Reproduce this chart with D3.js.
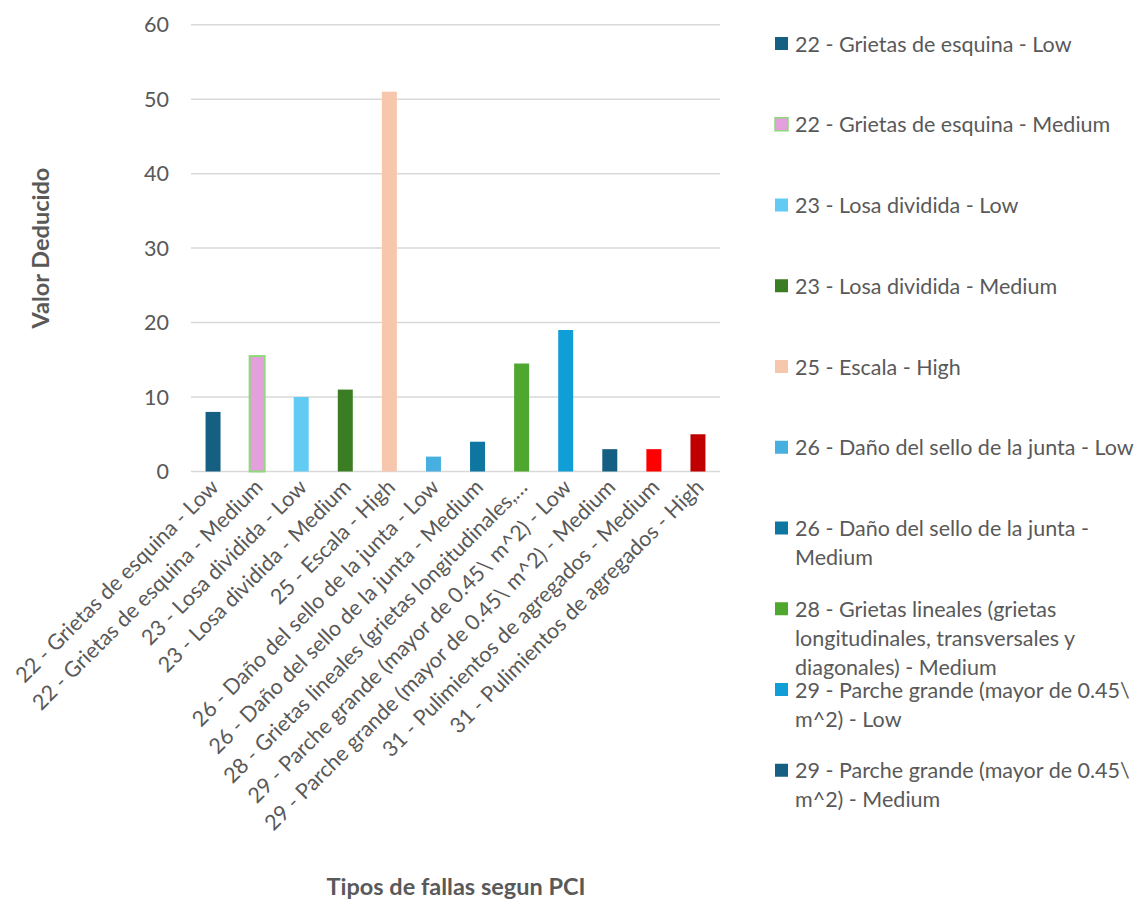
<!DOCTYPE html>
<html>
<head>
<meta charset="utf-8">
<script src="https://cdn.jsdelivr.net/npm/d3@7"></script>
<style>
  body { margin: 0; background: #fff; }
  text { font-family: Lato, "Liberation Sans", sans-serif; fill: #595959; }
</style>
</head>
<body>
<div id="chart"></div>
<script>
// categories (legend names) and the shorter axis labels
var categories = [
    "22 - Grietas de esquina - Low",
    "22 - Grietas de esquina - Medium",
    "23 - Losa dividida - Low",
    "23 - Losa dividida - Medium",
    "25 - Escala - High",
    "26 - Daño del sello de la junta - Low",
    "26 - Daño del sello de la junta - Medium",
    "28 - Grietas lineales (grietas longitudinales, transversales y diagonales) - Medium",
    "29 - Parche grande (mayor de 0.45\\ m^2) - Low",
    "29 - Parche grande (mayor de 0.45\\ m^2) - Medium",
    "31 - Pulimientos de agregados - Medium",
    "31 - Pulimientos de agregados - High"
];
var tickLabels = [
    "22 - Grietas de esquina - Low",
    "22 - Grietas de esquina - Medium",
    "23 - Losa dividida - Low",
    "23 - Losa dividida - Medium",
    "25 - Escala - High",
    "26 - Daño del sello de la junta - Low",
    "26 - Daño del sello de la junta - Medium",
    "28 - Grietas lineales (grietas longitudinales,…",
    "29 - Parche grande (mayor de 0.45\\ m^2) - Low",
    "29 - Parche grande (mayor de 0.45\\ m^2) - Medium",
    "31 - Pulimientos de agregados - Medium",
    "31 - Pulimientos de agregados - High"
];
var values = [8, 15.5, 10, 11, 51, 2, 4, 14.5, 19, 3, 3, 5];
var colors = ["#156082", "#e4a0dc", "#61cbf3", "#3a7d22", "#f6c6ad", "#47b0e0",
              "#0e76a0", "#4ea72e", "#0f9ed5", "#156082", "#ff0000", "#c00000"];
var yTicks = [0, 10, 20, 30, 40, 50, 60];

var width = 1143, height = 901;
var margin = {top: 24.7, left: 191, right: 423, bottom: 429.5};
var plotW = width - margin.left - margin.right;
var plotH = height - margin.top - margin.bottom;
var fs = "21.5px";

var svg = d3.select("#chart").append("svg")
    .attr("width", width)
    .attr("height", height);

var g = svg.append("g")
    .attr("transform", "translate(" + margin.left + "," + margin.top + ")");

var x = d3.scaleBand()
    .domain(d3.range(categories.length))
    .range([0, plotW])
    .paddingInner(0.66)
    .paddingOuter(0.33);

var y = d3.scaleLinear()
    .domain([0, 60])
    .range([plotH, 0]);

// gridlines
g.selectAll(".grid")
    .data(yTicks)
    .enter()
    .append("line")
    .attr("x1", 0)
    .attr("x2", plotW)
    .attr("y1", function(d) { return y(d); })
    .attr("y2", function(d) { return y(d); })
    .attr("stroke", "#d9d9d9")
    .attr("stroke-width", 1.5);

// y tick labels
g.selectAll(".ylab")
    .data(yTicks)
    .enter()
    .append("text")
    .attr("x", -22)
    .attr("y", function(d) { return y(d); })
    .attr("dy", "0.35em")
    .attr("text-anchor", "end")
    .style("font-size", fs)
    .text(function(d) { return d; });

// bars
g.selectAll(".bar")
    .data(values)
    .enter()
    .append("rect")
    .attr("x", function(d, i) { return x(i); })
    .attr("y", function(d) { return y(d); })
    .attr("width", x.bandwidth())
    .attr("height", function(d) { return plotH - y(d); })
    .attr("fill", function(d, i) { return colors[i]; })
    .attr("stroke", function(d, i) { return i === 1 ? "#8fd97a" : "none"; })
    .attr("stroke-width", 2);

// x tick labels, rotated
g.selectAll(".xlab")
    .data(tickLabels)
    .enter()
    .append("text")
    .attr("text-anchor", "end")
    .style("font-size", fs)
    .attr("transform", function(d, i) {
        var cx = x(i) + x.bandwidth() / 2 + 7;
        return "translate(" + cx + "," + (plotH + 17) + ") rotate(-45)";
    })
    .text(function(d) { return d; });

// axis titles
svg.append("text")
    .attr("transform", "translate(49," + (margin.top + plotH / 2) + ") rotate(-90)")
    .attr("text-anchor", "middle")
    .style("font-size", "23.5px")
    .style("font-weight", "bold")
    .text("Valor Deducido");

svg.append("text")
    .attr("x", 456)
    .attr("y", 895)
    .attr("text-anchor", "middle")
    .style("font-size", "23.5px")
    .style("font-weight", "bold")
    .text("Tipos de fallas segun PCI");

// legend (only the entries that fit are shown)
var legendX = 775, legendY = 44, legendStep = 80.75, maxW = 348;
var legend = svg.append("g");
categories.forEach(function(name, i) {
    var cy = legendY + i * legendStep;
    if (cy > 840) return;
    legend.append("rect")
        .attr("x", legendX)
        .attr("y", cy - 7)
        .attr("width", 13)
        .attr("height", 13)
        .attr("fill", colors[i])
        .attr("stroke", i === 1 ? "#8fd97a" : "none")
        .attr("stroke-width", 1.5);
    var t = legend.append("text")
        .attr("x", legendX + 20)
        .attr("y", cy)
        .style("font-size", fs);
    // wrap words
    var words = name.split(" "), line = [];
    var tspan = t.append("tspan").attr("x", legendX + 20).attr("dy", "0.35em");
    words.forEach(function(w) {
        line.push(w);
        tspan.text(line.join(" "));
        if (tspan.node().getComputedTextLength() > maxW && line.length > 1) {
            line.pop();
            tspan.text(line.join(" "));
            line = [w];
            tspan = t.append("tspan").attr("x", legendX + 20).attr("dy", "29px").text(w);
        }
    });
});
</script>
</body>
</html>
